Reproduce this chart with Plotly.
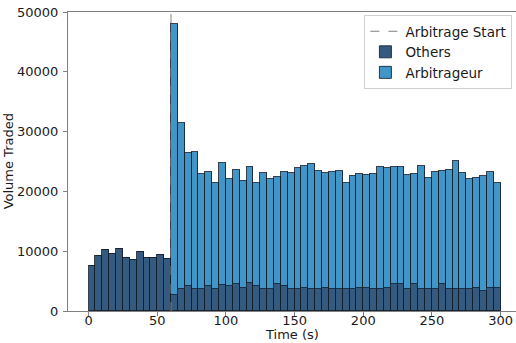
import plotly.graph_objects as go

bin_start_s = [0, 5, 10, 15, 20, 25, 30, 35, 40, 45, 50, 55,
               60, 65, 70, 75, 80, 85, 90, 95, 100, 105, 110, 115,
               120, 125, 130, 135, 140, 145, 150, 155, 160, 165, 170, 175,
               180, 185, 190, 195, 200, 205, 210, 215, 220, 225, 230, 235,
               240, 245, 250, 255, 260, 265, 270, 275, 280, 285, 290, 295]
bin_width_s = 5

others = [7450, 9150, 10150, 9450, 10400, 8900, 8500, 9850, 8850, 8900, 9300, 8650,
          2600, 3700, 4250, 3700, 3750, 4250, 3750, 4300, 4100, 4500, 3900, 4650,
          4100, 3600, 3750, 4500, 4250, 3750, 3750, 3900, 3750, 3750, 3900, 3750,
          3700, 3700, 3600, 3900, 3900, 3700, 3750, 3900, 4500, 4500, 3750, 4500,
          3750, 3750, 3750, 4500, 3750, 3600, 3750, 3750, 3900, 3400, 3900, 3900]

arbitrageur = [0, 0, 0, 0, 0, 0, 0, 0, 0, 0, 0, 0,
               45400, 27700, 22200, 22900, 19200, 19000, 17700, 20500, 18000, 19050, 17800, 19450,
               17350, 19500, 18250, 17850, 19000, 19350, 20200, 20350, 20900, 19700, 19250, 19500,
               19750, 17750, 19050, 19050, 18900, 19250, 20350, 20050, 19600, 19600, 19000, 18450,
               20500, 18500, 19550, 18950, 19900, 21500, 19400, 18350, 18350, 19200, 19400, 17550]

arbitrage_start_s = 60
y_max = 50000
x_ticks = [0, 50, 100, 150, 200, 250, 300]
y_ticks = [0, 10000, 20000, 30000, 40000, 50000]
y_tick_labels = ["0", "10000", "20000", "30000", "40000", "50000"]
x_title = "Time (s)"
y_title = "Volume Traded"

centers = [s + bin_width_s / 2 for s in bin_start_s]
edge = dict(color="rgba(20,30,45,0.85)", width=1)
tick_fs = 13
title_fs = 13
legend_fs = 13.5

fig = go.Figure()
fig.add_trace(go.Scatter(x=[arbitrage_start_s, arbitrage_start_s], y=[0, y_max],
                         mode="lines", name="Arbitrage Start",
                         line=dict(color="#808080", width=1, dash="dash")))
fig.add_trace(go.Bar(x=centers, y=others, width=bin_width_s, name="Others",
                     marker=dict(color="#355a80", line=edge)))
fig.add_trace(go.Bar(x=centers, y=arbitrageur, width=bin_width_s, name="Arbitrageur",
                     marker=dict(color="#4195c7", line=edge)))

fig.update_layout(
    width=516, height=343,
    margin=dict(l=68, r=0, t=12, b=32, autoexpand=False),
    barmode="stack", bargap=0,
    plot_bgcolor="white", paper_bgcolor="white",
    font=dict(family="DejaVu Sans", size=13, color="#1a1a1a"),
    legend=dict(x=0.992, y=0.99, xanchor="right", yanchor="top",
                bgcolor="rgba(255,255,255,0.8)", bordercolor="#d0d0d0", borderwidth=1,
                font=dict(size=legend_fs), traceorder="normal", itemwidth=30,
                tracegroupgap=2),
    showlegend=True,
    annotations=[
        dict(text=x_title, xref="paper", yref="paper", x=0.5, y=-0.079,
             xanchor="center", yanchor="middle", showarrow=False,
             font=dict(size=title_fs)),
        dict(text=y_title, xref="paper", yref="paper", x=-0.132, y=0.5,
             xanchor="center", yanchor="middle", showarrow=False, textangle=-90,
             font=dict(size=title_fs)),
    ],
)
fig.update_xaxes(range=[-15, 311.2], tickvals=x_ticks, ticks="outside", ticklen=4,
                 tickcolor="#808080", showline=True, linecolor="#808080", linewidth=1,
                 mirror=True, showgrid=False, zeroline=False, automargin=False,
                 tickfont=dict(size=tick_fs), ticklabelstandoff=-7)
fig.update_yaxes(range=[0, y_max], tickvals=y_ticks, ticktext=y_tick_labels,
                 ticks="outside", ticklen=4,
                 tickcolor="#808080", showline=True, linecolor="#808080", linewidth=1,
                 showgrid=False, zeroline=False, automargin=False,
                 tickfont=dict(size=tick_fs), ticklabelstandoff=2)

fig.write_html("out.html", config={"displayModeBar": False},
               post_script="document.body.style.margin='0';document.body.style.overflow='hidden';")
